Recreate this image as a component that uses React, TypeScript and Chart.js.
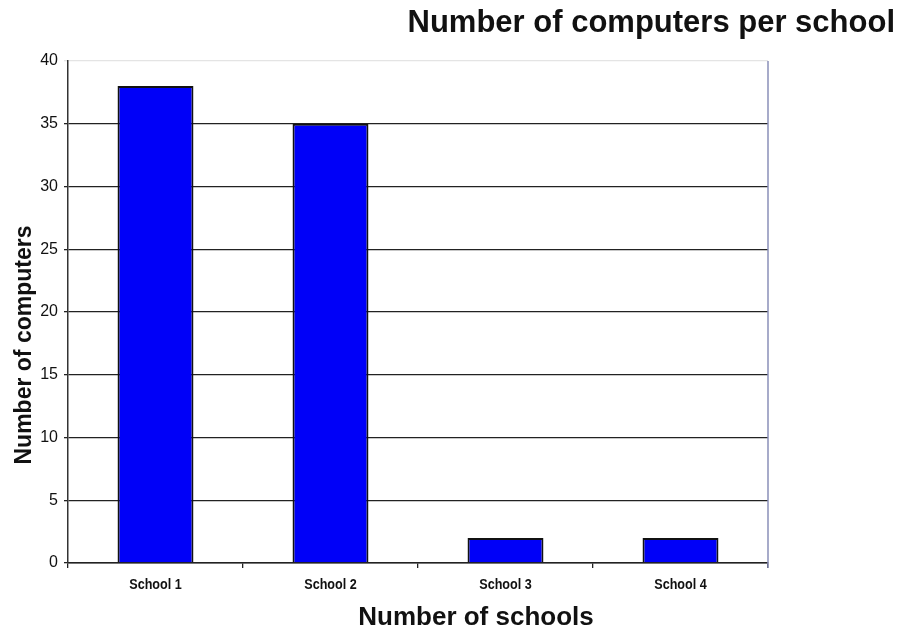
import React, { useEffect, useRef } from "react";
import { Chart, registerables } from "chart.js";

Chart.register(...registerables);

const schools = ["School 1", "School 2", "School 3", "School 4"];
const computers = [38, 35, 2, 2];
const yMax = 40;
const yStep = 5;

const chartTitle = "Number of computers per school";
const xTitle = "Number of schools";
const yTitle = "Number of computers";

const FONT = "Arial, 'Liberation Sans', Helvetica, sans-serif";

// Draws text squeezed horizontally by `sx`, anchored at (x, y).
function drawScaled(
  ctx: CanvasRenderingContext2D,
  text: string,
  x: number,
  y: number,
  sx: number,
  align: CanvasTextAlign
) {
  ctx.save();
  ctx.translate(x, y);
  ctx.scale(sx, 1);
  ctx.textAlign = align;
  ctx.fillText(text, 0, 0);
  ctx.restore();
}

// Chart title, axis titles, category labels and the right-hand frame line.
const textPlugin = {
  id: "textPlugin",
  afterDraw(chart: Chart) {
    const { ctx, chartArea } = chart;
    const xScale: any = chart.scales.x;
    ctx.save();
    ctx.strokeStyle = "#8a8fb8";
    ctx.lineWidth = 1.5;
    ctx.beginPath();
    ctx.moveTo(chartArea.right, chartArea.top);
    ctx.lineTo(chartArea.right, chartArea.bottom + 5);
    ctx.stroke();

    ctx.fillStyle = "#111";
    ctx.textBaseline = "alphabetic";

    ctx.font = `bold 31px ${FONT}`;
    drawScaled(ctx, chartTitle, 895, 32, 1, "right");

    ctx.font = `bold 26px ${FONT}`;
    drawScaled(ctx, xTitle, 476, 625, 1, "center");

    ctx.font = `bold 14px ${FONT}`;
    schools.forEach((s, i) => {
      drawScaled(ctx, s, xScale.getPixelForValue(i), 589, 0.9, "center");
    });

    ctx.translate(31, 345);
    ctx.rotate(-Math.PI / 2);
    ctx.font = `bold 23px ${FONT}`;
    drawScaled(ctx, yTitle, 0, 0, 1, "center");
    ctx.restore();
  },
};

export default function App() {
  const ref = useRef<HTMLCanvasElement>(null);

  useEffect(() => {
    if (!ref.current) return;
    const chart = new Chart(ref.current, {
      type: "bar",
      data: {
        labels: schools,
        datasets: [
          {
            data: computers,
            backgroundColor: "#0000f8",
            borderColor: "#111",
            borderWidth: 2,
            barPercentage: 0.434,
            categoryPercentage: 1,
          },
        ],
      },
      options: {
        animation: false,
        responsive: false,
        maintainAspectRatio: false,
        layout: { padding: { top: 61, right: 132, left: 0, bottom: 0 } },
        plugins: {
          legend: { display: false },
          tooltip: { enabled: false },
          title: { display: false },
        },
        scales: {
          x: {
            grid: {
              display: true,
              offset: true,
              drawOnChartArea: false,
              drawTicks: true,
              tickLength: 5,
              color: "#222",
              lineWidth: 1.3,
            },
            border: { display: true, color: "#222", width: 1.5 },
            ticks: { display: false },
            afterFit(scale: any) {
              scale.height = 66;
            },
          },
          y: {
            min: 0,
            max: yMax,
            grid: {
              color: (c: any) => (c.tick && c.tick.value === yMax ? "#e4e4e4" : "#222"),
              lineWidth: 1.3,
              tickLength: 4,
              drawTicks: true,
            },
            border: { display: true, color: "#333", width: 1.5 },
            ticks: {
              stepSize: yStep,
              color: "#111",
              font: { family: FONT, size: 16 },
              padding: 6,
            },
            afterFit(scale: any) {
              scale.width = 68;
            },
          },
        },
      },
      plugins: [textPlugin],
    });
    return () => chart.destroy();
  }, []);

  return (
    <div style={{ position: "fixed", left: 0, top: 0, width: 900, height: 629, background: "#fff" }}>
      <canvas ref={ref} width={900} height={629} style={{ width: 900, height: 629 }} />
    </div>
  );
}
